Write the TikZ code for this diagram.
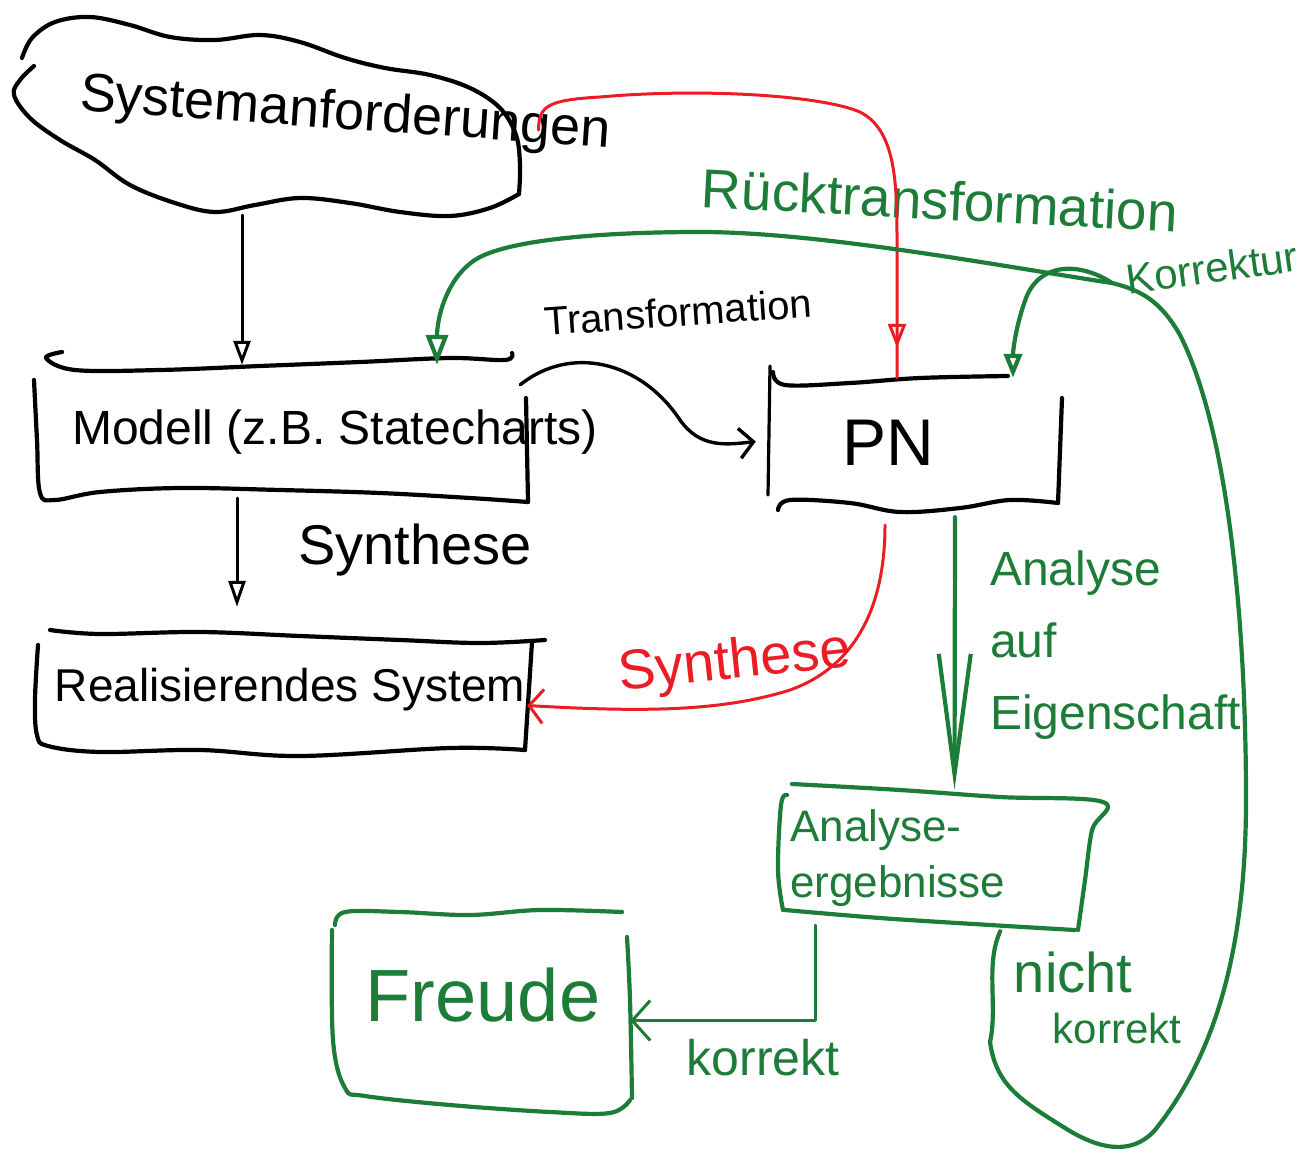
\documentclass[tikz,border=0pt]{standalone}
\usepackage{fontspec}
\setmainfont{Liberation Sans}
\usetikzlibrary{arrows.meta,decorations.markings}
\definecolor{hgreen}{RGB}{28,124,56}
\definecolor{hred}{RGB}{236,28,36}
\begin{document}
\begin{tikzpicture}[x=1pt,y=-1pt,line cap=round,line join=round,
  ink/.style={draw=black,line width=4.2pt},
  gink/.style={draw=hgreen,line width=4.2pt},
  rink/.style={draw=hred,line width=3pt},
  txt/.style 2 args={inner sep=0pt,font=\fontsize{#1}{#2}\selectfont},
  area/.style 2 args={inner sep=0pt,minimum width=#1,minimum height=#2},
  midtip/.style={postaction={decorate},decoration={markings,
     mark=at position -30pt with {\arrow{Triangle[open,length=24pt,width=18pt]}}}}]
\useasboundingbox (0,0) rectangle (1305,1156);

% ---------- areas (named) ----------
\node[area={505pt}{196pt}] (cloud) at (268,117) {};
\node[area={488pt}{133pt}] (model) at (282,431.5) {};
\node[area={492pt}{113pt}] (real) at (281,693.5) {};
\node[area={294pt}{127pt}] (pn) at (913,441.5) {};
\node[area={315pt}{135pt}] (ergeb) at (937.5,857.5) {};
\node[area={298pt}{193pt}] (freude) at (481,1008.5) {};

% ---------- hand-drawn outlines ----------
% cloud
\draw[ink] plot[smooth,tension=0.6] coordinates {(22,58) (32,38) (55,22) (90,17) (130,25) (170,37) (215,40) (260,35) (300,42) (345,58) (385,68) (430,75) (470,88) (500,108) (516,135) (520,165) (519,194)};
\draw[ink] plot[smooth,tension=0.6] coordinates {(519,194) (490,208) (450,216) (400,212) (350,203) (300,198) (255,205) (215,212) (175,203) (130,185) (95,160) (60,140) (30,118) (14,95) (20,80) (34,66)};
% model box
\draw[ink] plot[smooth,tension=0.6] coordinates {(62,352) (46,358) (75,370) (160,370) (260,366) (360,362) (450,358) (505,360) (512,353)};
\draw[ink] plot[smooth,tension=0.6] coordinates {(34,380) (37,440) (40,493) (55,500) (100,492) (180,488) (280,490) (380,493) (470,498) (528,502)};
\draw[ink] (528,502) -- (526,398);
% realisierendes system box
\draw[ink] plot[smooth,tension=0.6] coordinates {(50,630) (100,634) (200,632) (300,636) (400,640) (480,643) (545,640)};
\draw[ink] plot[smooth,tension=0.6] coordinates {(38,645) (35,700) (37,735) (48,746) (100,752) (200,750) (300,756) (450,748) (525,750)};
\draw[ink] (532,642) -- (525,750);
% PN box
\draw[ink,line width=3.2pt] (770,366) -- (768,495);
\draw[ink] plot[smooth,tension=0.6] coordinates {(773,372) (785,385) (850,383) (920,378) (1008,376)};
\draw[ink] (1062,398) -- (1058,503);
\draw[ink] plot[smooth,tension=0.6] coordinates {(778,510) (790,500) (850,503) (900,512) (960,508) (1010,500) (1058,503)};
% Analyseergebnisse box
\draw[gink] plot[smooth,tension=0.6] coordinates {(787,795) (781,805) (778,870) (783,910)};
\draw[gink] plot[smooth,tension=0.6] coordinates {(792,784) (900,790) (1000,797) (1103,802) (1092,830) (1085,880) (1078,930)};
\draw[gink] plot[smooth,tension=0.6] coordinates {(785,910) (880,918) (990,925) (1075,930)};
% Freude box
\draw[gink] plot[smooth,tension=0.6] coordinates {(335,925) (345,912) (400,912) (470,915) (540,910) (622,912)};
\draw[gink] plot[smooth,tension=0.6] coordinates {(332,930) (333,1040) (345,1088) (365,1096) (450,1105) (550,1112) (610,1113) (630,1100)};
\draw[gink] plot[smooth,tension=0.6] coordinates {(627,937) (630,1000) (632,1098)};

% ---------- texts ----------
\node[txt={54}{60},rotate=-4] (sysreqtext) at (345,115) {Systemanforderungen};
\node[txt={48}{56}] (modeltext) at (335,432) {Modell (z.B. Statecharts)};
\node[txt={46}{52}] (realtext) at (290,690) {Realisierendes System};
\node[txt={66}{70}] (pntext) at (888,443) {PN};
\node[txt={40}{46},rotate=4] (transf) at (678,312) {Transformation};
\node[txt={55}{60},rotate=-3,text=hgreen] (rueck) at (940,200) {Rücktransformation};
\node[txt={42}{48},rotate=8,text=hgreen] (korrektur) at (1212,268) {Korrektur};
\node[txt={56}{60}] (synth) at (415,550) {Synthese};
\node[txt={56}{60},rotate=6,text=hred] (rsynth) at (735,664) {Synthese};
\node[txt={48}{72},align=left,anchor=west,text=hgreen] (analyse) at (990,645) {Analyse\\auf\\Eigenschaft};
\node[txt={44}{56},align=left,anchor=west,text=hgreen] (ergebtext) at (790,858) {Analyse-\\ergebnisse};
\node[txt={74}{78},text=hgreen] (freudetext) at (483,995) {Freude};
\node[txt={50}{56},text=hgreen] (korrekt) at (763,1058) {korrekt};
\node[txt={56}{60},text=hgreen] (nicht) at (1073,972) {nicht};
\node[txt={42}{48},text=hgreen] (nichtk) at (1117,1028) {korrekt};

% ---------- connectors ----------
\draw[ink,line width=3pt,-{Triangle[open,length=24pt,width=17pt]}] ([xshift=-26pt]cloud.south) -- ([xshift=-40pt]model.north);
\draw[ink,line width=3pt,-{Triangle[open,length=26pt,width=17pt]}] ([xshift=-45pt]model.south) -- ([xshift=-44pt,yshift=30pt]real.north);
\draw[ink,line width=3.4pt,-{Straight Barb[length=14pt,width=30pt]}] ([xshift=-6pt,yshift=-20pt]model.north east) .. controls (570,345) and (640,360) .. (680,420) .. controls (700,448) and (725,445) .. ([xshift=-10pt]pn.west);
\draw[rink,midtip] ([xshift=18pt,yshift=-13pt]cloud.east) .. controls (538,105) and (550,100) .. (600,97) .. controls (700,88) and (820,95) .. (860,112) .. controls (895,130) and (897,180) .. (897,240) -- ([xshift=-16pt]pn.north);
\draw[rink,-{Straight Barb[length=14pt,width=34pt]}] ([xshift=-28pt,yshift=-20pt]pn.south) .. controls (885,600) and (860,665) .. (790,690) .. controls (720,712) and (640,712) .. ([yshift=-12pt]real.east);
\draw[gink,-{Straight Barb[length=120pt,width=32pt]}] ([xshift=42pt,yshift=-12pt]pn.south) -- ([xshift=17pt]ergeb.north);
\draw[gink,line width=3pt,-{Straight Barb[length=18pt,width=40pt]}] ([xshift=-122pt]ergeb.south) |- ([yshift=-12pt]freude.east);
\coordinate (split) at (1112,283);
\draw[gink] ([xshift=-95pt,yshift=-6pt]ergeb.south east) .. controls (985,965) and (998,1005) .. (990,1042) .. controls (996,1085) and (1020,1100) .. (1065,1128) .. controls (1095,1147) and (1130,1158) .. (1155,1130) .. controls (1215,1055) and (1246,950) .. (1246,800) .. controls (1246,620) and (1228,430) .. (1180,335) .. controls (1160,300) and (1140,290) .. (split);
\draw[gink,-{Triangle[open,length=30pt,width=22pt]}] (split) .. controls (1000,266) and (820,232) .. (700,232) .. controls (600,232) and (500,240) .. (472,262) .. controls (445,282) and (437,320) .. ([xshift=155pt]model.north);
\draw[gink,-{Triangle[open,length=24pt,width=18pt]}] (split) .. controls (1080,262) and (1040,262) .. (1026,298) .. controls (1016,325) and (1013,350) .. ([xshift=100pt]pn.north);
\end{tikzpicture}
\end{document}
